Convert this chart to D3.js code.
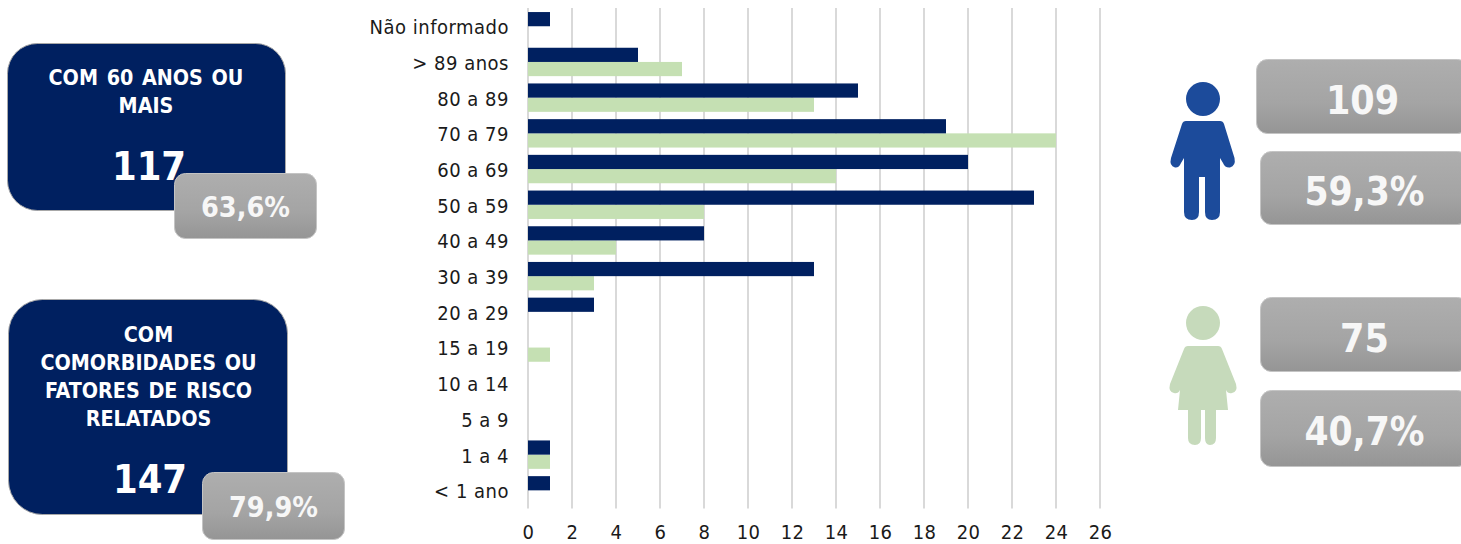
<!DOCTYPE html>
<html>
<head>
<meta charset="utf-8">
<script src="https://cdn.jsdelivr.net/npm/d3@7/dist/d3.min.js"></script>
<style>
html,body{margin:0;padding:0;background:#fff;overflow:hidden}
svg{display:block}
text{font-family:"DejaVu Sans Condensed","DejaVu Sans",sans-serif;font-stretch:condensed}
</style>
</head>
<body>
<svg id="c" width="1461" height="544"></svg>
<script>
const categories = ["Não informado","> 89 anos","80 a 89","70 a 79","60 a 69","50 a 59","40 a 49","30 a 39","20 a 29","15 a 19","10 a 14","5 a 9","1 a 4","< 1 ano"];
const maleValues = [1,5,15,19,20,23,8,13,3,0,0,0,1,1];
const femaleValues = [0,7,13,24,14,8,4,3,0,1,0,0,1,0];
const xTicks = [0,2,4,6,8,10,12,14,16,18,20,22,24,26];
const card1Lines = ["COM 60 ANOS OU","MAIS"];
const card1Value = "117";
const card1Share = "63,6%";
const card2Lines = ["COM","COMORBIDADES OU","FATORES DE RISCO","RELATADOS"];
const card2Value = "147";
const card2Share = "79,9%";
const maleCount = "109", maleShare = "59,3%", femaleCount = "75", femaleShare = "40,7%";

const NAVY="#002060", GREEN="#c5e0b3", FEMALE="#c6dabb", MALE="#1c4b9b", GRID="#d9d9d9", INK="#1a1a1a";
const svg=d3.select("#c");
const defs=svg.append("defs");
const g=defs.append("linearGradient").attr("id","gray").attr("x1",0).attr("y1",0).attr("x2",0).attr("y2",1);
g.append("stop").attr("offset","0%").attr("stop-color","#aeaeae");
g.append("stop").attr("offset","60%").attr("stop-color","#a4a4a4");
g.append("stop").attr("offset","100%").attr("stop-color","#959595");

// chart
const x=d3.scaleLinear().domain([0,26]).range([528,1100]);
const y=d3.scaleBand().domain(categories).range([8.4,508.2]).paddingInner(0).paddingOuter(0);
const BAR=14.2;

svg.append("g").selectAll("line").data(xTicks).join("line")
  .attr("x1",d=>x(d)).attr("x2",d=>x(d)).attr("y1",8).attr("y2",508.5)
  .attr("stroke",GRID).attr("stroke-width",2);

const cx=c=>y(c)+y.bandwidth()/2;
svg.append("g").selectAll("rect").data(categories.map((c,i)=>({c,v:femaleValues[i]})).filter(d=>d.v>0)).join("rect")
  .attr("x",x(0)).attr("y",d=>cx(d.c)).attr("width",d=>x(d.v)-x(0)).attr("height",BAR).attr("fill",GREEN);
svg.append("g").selectAll("rect").data(categories.map((c,i)=>({c,v:maleValues[i]})).filter(d=>d.v>0)).join("rect")
  .attr("x",x(0)).attr("y",d=>cx(d.c)-BAR).attr("width",d=>x(d.v)-x(0)).attr("height",BAR).attr("fill",NAVY);

const FONT='"DejaVu Sans Condensed","DejaVu Sans",sans-serif';
const ya=svg.append("g").attr("transform","translate(528,1.5)").call(d3.axisLeft(y).tickSize(0).tickPadding(19));
ya.select(".domain").remove();
ya.selectAll("text").attr("font-size",20).attr("fill",INK).style("font-family",FONT).style("letter-spacing","0.5px");
const xa=svg.append("g").attr("transform","translate(0,509)").call(d3.axisBottom(x).tickValues(xTicks).tickFormat(d3.format("d")).tickSize(0).tickPadding(16));
xa.select(".domain").remove();
xa.selectAll("text").attr("font-size",20).attr("fill",INK).style("font-family",FONT).style("letter-spacing","0.4px");

function navy(xp,yp,w,h,r){
  svg.append("rect").attr("x",xp).attr("y",yp).attr("width",w).attr("height",h).attr("rx",r)
    .attr("fill",NAVY).attr("stroke","#a8a8a8").attr("stroke-width",1);
}
function txt(s,xp,yp,size,weight,fill,ws){
  svg.append("text").attr("x",xp).attr("y",yp).attr("text-anchor","middle").attr("font-size",size)
    .attr("font-weight",weight).attr("fill",fill).style("word-spacing",(ws||0)+"px").text(s);
}
function gray(xp,yp,w,h,s,size,dy){
  svg.append("rect").attr("x",xp).attr("y",yp).attr("width",w).attr("height",h).attr("rx",11)
    .attr("fill","url(#gray)").attr("stroke","#c4c4c4").attr("stroke-width",1);
  txt(s,xp+w/2,yp+h/2+size*0.36+dy,size,"bold","#f7f7f7");
}

navy(7.5,43.5,278,167,30);
card1Lines.forEach((s,i)=>txt(s,146,85+i*28,21.3,"bold","#fff",2));
txt(card1Value,149,180,39.5,"bold","#fff");
gray(174.5,173.5,142,65,card1Share,28.5,0.5);

navy(8.5,299.5,279,215,34);
card2Lines.forEach((s,i)=>txt(s,148.5,342+i*28,21.3,"bold","#fff",2));
txt(card2Value,150,493,39.5,"bold","#fff");
gray(202.5,472.5,142,67,card2Share,28.5,0.5);

gray(1256.5,59.5,212,74,maleCount,39,3);
gray(1260.5,151.5,208,73,maleShare,38.5,3);
gray(1260.5,297.5,208,74,femaleCount,39,3);
gray(1260.5,390.5,208,76,femaleShare,38.5,2.5);

// pictograms
const man=svg.append("g").attr("fill",MALE);
man.append("circle").attr("cx",1203).attr("cy",99).attr("r",17);
man.append("path").attr("d","M1186,121 L1220,121 Q1223,121 1224,124 L1234.5,158 Q1236,166 1230,167.5 Q1225,168 1223,163 L1220,158 L1220,212 Q1220,220 1212,220 Q1205,220 1205,212 L1205,177 L1199,177 L1199,212 Q1199,220 1192,220 Q1184,220 1184,212 L1184,158 L1181,163 Q1179,168 1175,167.5 Q1169,166 1171,158 L1182,124 Q1183,121 1186,121 Z");
const woman=svg.append("g").attr("fill",FEMALE);
woman.append("circle").attr("cx",1203).attr("cy",323).attr("r",17);
woman.append("path").attr("d","M1188,346 L1218,346 Q1221,346 1222,349 L1236,384 Q1238,392 1232,393 Q1228,394 1226,390 L1228,410 L1216,410 L1216,438 Q1216,445 1210,445 Q1205,445 1205,438 L1205,410 L1201,410 L1201,438 Q1201,445 1195,445 Q1188,445 1188,438 L1188,410 L1178,410 L1180,390 Q1178,394 1174,393 Q1168,392 1170,384 L1184,349 Q1185,346 1188,346 Z");
</script>
</body>
</html>
